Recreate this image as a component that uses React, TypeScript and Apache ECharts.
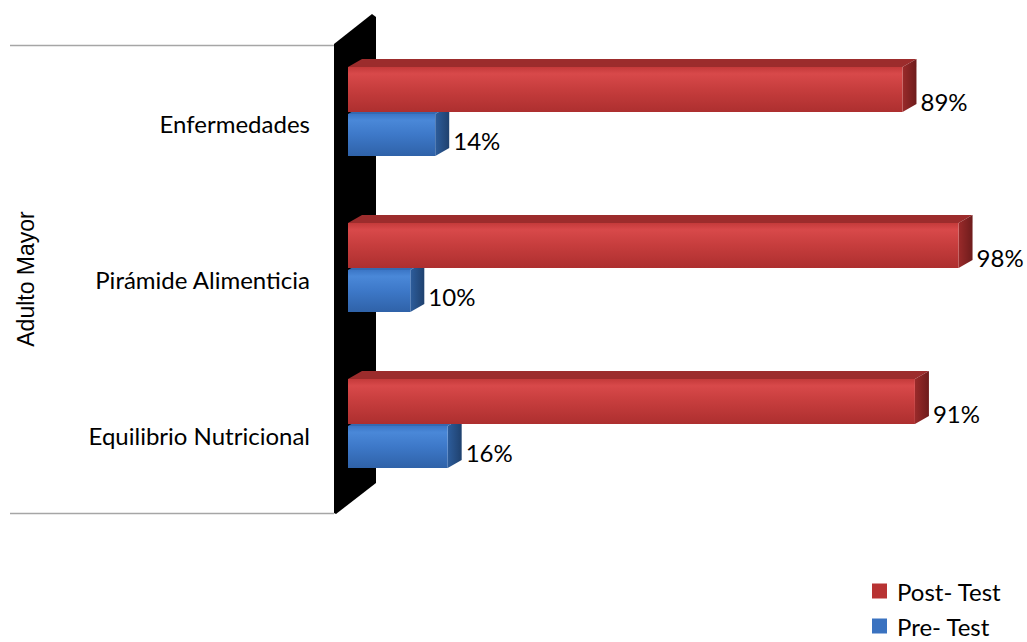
import React, { useEffect, useRef } from "react";
import * as echarts from "echarts";

const categories = ["Enfermedades", "Pirámide Alimenticia", "Equilibrio Nutricional"];
const postTest = [89, 98, 91];
const preTest = [14, 10, 16];
const seriesNames = ["Post- Test", "Pre- Test"];
const groupLabel = "Adulto Mayor";

const FONT = "Lato, 'Open Sans', sans-serif";

function makeRender(isPost: boolean) {
  return (params: any, api: any) => {
    const cat = api.value(1);
    const v = api.value(0);
    const p0 = api.coord([0, cat]);
    const p1 = api.coord([v, cat]);
    const band = api.size([0, 1])[1];
    const f = band / 156;
    const c = p0[1];
    const yTop = c + (isPost ? -56 : -9) * f;
    const yBot = c + (isPost ? -11 : 33) * f;
    const dx = 14;
    const dy = 8;
    const x0 = p0[0];
    const x1 = p1[0];
    const front = isPost
      ? new echarts.graphic.LinearGradient(0, 0, 0, 1, [
          { offset: 0, color: "#c43a3a" },
          { offset: 0.15, color: "#d8494a" },
          { offset: 0.5, color: "#c63d3d" },
          { offset: 1, color: "#ad2f2f" },
        ])
      : new echarts.graphic.LinearGradient(0, 0, 0, 1, [
          { offset: 0, color: "#3b76c6" },
          { offset: 0.15, color: "#4a88d8" },
          { offset: 0.5, color: "#3d78c8" },
          { offset: 1, color: "#2f62a8" },
        ]);
    const topC = isPost ? "#9c2c2c" : "#3569b0";
    const side = isPost
      ? new echarts.graphic.LinearGradient(0, 0, 1, 0, [
          { offset: 0, color: "#9a2a2a" },
          { offset: 1, color: "#6e1c1c" },
        ])
      : new echarts.graphic.LinearGradient(0, 0, 1, 0, [
          { offset: 0, color: "#2d5d9c" },
          { offset: 1, color: "#1f416e" },
        ]);
    const labelY = isPost ? c - 22 * f : c + 17 * f;
    return {
      type: "group",
      children: [
        {
          type: "polygon",
          shape: { points: [[x0, yTop], [x0 + dx, yTop - dy], [x1 + dx, yTop - dy], [x1, yTop]] },
          style: { fill: topC },
        },
        {
          type: "polygon",
          shape: { points: [[x1, yTop], [x1 + dx, yTop - dy], [x1 + dx, yBot - dy], [x1, yBot]] },
          style: { fill: side },
        },
        {
          type: "rect",
          shape: { x: x0, y: yTop, width: x1 - x0, height: yBot - yTop },
          style: { fill: front },
        },
        {
          type: "text",
          x: x1 + dx + 4,
          y: labelY,
          style: {
            text: v + "%",
            fill: "#000",
            font: "24px " + FONT,
            verticalAlign: "middle",
            align: "left",
          },
        },
      ],
    };
  };
}

const legendBase = {
  orient: "vertical",
  itemWidth: 15,
  itemHeight: 15,
  icon: "rect",
  textStyle: { fontFamily: FONT, fontSize: 24, color: "#000", padding: [0, 0, 0, 5] },
};

export default function App() {
  const ref = useRef<HTMLDivElement>(null);
  useEffect(() => {
    if (!ref.current) return;
    const chart = echarts.init(ref.current, undefined, { renderer: "svg" });
    chart.setOption({
      animation: false,
      backgroundColor: "#ffffff",
      grid: { left: 348, top: 45, width: 623, height: 468, containLabel: false },
      xAxis: {
        type: "value",
        min: 0,
        max: 100,
        show: false,
      },
      yAxis: {
        type: "category",
        data: categories,
        inverse: true,
        axisLine: { show: false },
        axisTick: { show: false },
        splitLine: { show: false },
        axisLabel: {
          margin: 38,
          color: "#000",
          fontFamily: FONT,
          fontSize: 24,
          padding: [8, 0, 0, 0],
        },
        name: groupLabel,
        nameLocation: "middle",
        nameRotate: 90,
        nameGap: 311,
        nameTextStyle: { fontFamily: "'Liberation Sans', Arial, sans-serif", fontSize: 23, color: "#000" },
      },
      legend: [
        {
          ...legendBase,
          left: 867,
          top: 574,
          data: [{ name: seriesNames[0], itemStyle: { color: "#b83333" } }],
        },
        {
          ...legendBase,
          left: 867,
          top: 609,
          data: [{ name: seriesNames[1], itemStyle: { color: "#3a72c0" } }],
        },
      ],
      graphic: [
        {
          type: "polygon",
          shape: {
            points: [
              [334, 44],
              [372, 14],
              [376, 17],
              [376, 483],
              [336, 514],
              [334, 513],
            ],
          },
          style: { fill: "#000" },
          z: 0,
        },
        { type: "line", shape: { x1: 10, y1: 45.5, x2: 334, y2: 45.5 }, style: { stroke: "#a6a6a6", lineWidth: 1.5 } },
        { type: "line", shape: { x1: 10, y1: 513.5, x2: 334, y2: 513.5 }, style: { stroke: "#a6a6a6", lineWidth: 1.5 } },
      ],
      series: [
        {
          name: seriesNames[1],
          type: "custom",
          itemStyle: { color: "#3a72c0" },
          renderItem: makeRender(false),
          encode: { x: 0, y: 1 },
          data: preTest.map((v, i) => [v, i]),
          z: 5,
        },
        {
          name: seriesNames[0],
          type: "custom",
          itemStyle: { color: "#b83333" },
          renderItem: makeRender(true),
          encode: { x: 0, y: 1 },
          data: postTest.map((v, i) => [v, i]),
          z: 6,
        },
      ],
    });
    return () => chart.dispose();
  }, []);
  return <div ref={ref} style={{ width: 1027, height: 642, position: "absolute", left: 0, top: 0 }} />;
}
